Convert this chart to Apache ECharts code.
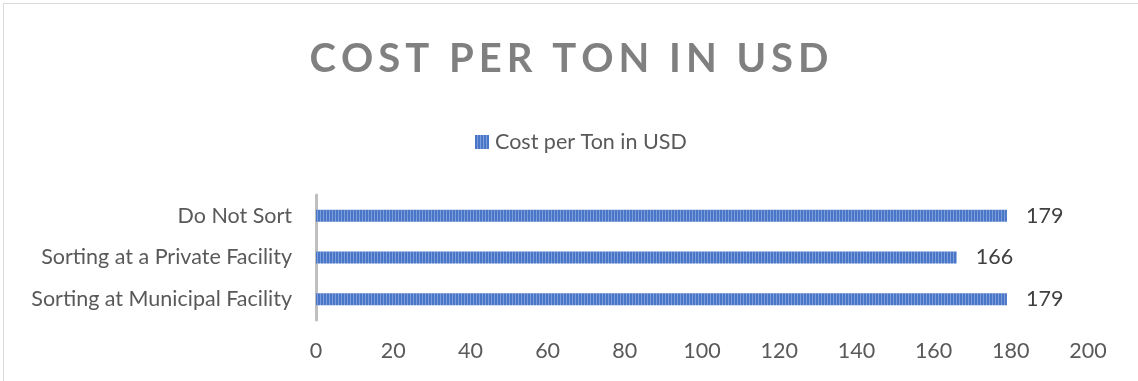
<!DOCTYPE html>
<html>
<head>
<meta charset="utf-8">
<script src="https://cdn.jsdelivr.net/npm/echarts@6/dist/echarts.min.js"></script>
<style>
html,body{margin:0;padding:0;background:#fff;}
#frame{position:absolute;left:3px;top:3px;width:1140px;height:385px;border-left:1px solid #d9d9d9;border-top:1px solid #d9d9d9;}
#chart{position:absolute;left:0;top:0;width:1138px;height:381px;}
</style>
</head>
<body>
<div id="frame"></div>
<div id="chart"></div>
<script>
const categories = ['Sorting at Municipal Facility', 'Sorting at a Private Facility', 'Do Not Sort'];
const costPerTon = [179, 166, 179];
const seriesName = 'Cost per Ton in USD';
const titleText = 'COST PER TON IN USD';
const xTicks = {min: 0, max: 200, interval: 20};

function stripes() {
  const c = document.createElement('canvas');
  c.width = 3; c.height = 4;
  const g = c.getContext('2d');
  g.fillStyle = '#4a76c7'; g.fillRect(0, 0, 3, 4);
  g.fillStyle = '#7d9edb'; g.fillRect(2, 0, 1, 4);
  return c;
}
const pat = {image: stripes(), repeat: 'repeat'};

const chart = echarts.init(document.getElementById('chart'), null, {renderer: 'canvas'});
const FONT = 'Lato';
const FS = 21.5;
chart.setOption({
  animation: false,
  title: {
    text: titleText.split('').join('\u200A\u200A'),
    left: 'center', top: 34,
    textStyle: {fontFamily: FONT, fontSize: 40, fontWeight: 'bold', color: '#808080'}
  },
  legend: {
    top: 126, left: 470,
    itemWidth: 14, itemHeight: 14, itemGap: 6,
    icon: 'rect',
    textStyle: {fontFamily: FONT, fontSize: FS, color: '#595959', padding: [0, 0, 0, 1]},
    data: [{name: seriesName, itemStyle: {color: pat}}]
  },
  grid: {left: 316, right: 50, top: 195, bottom: 61, containLabel: false},
  xAxis: {
    type: 'value', min: xTicks.min, max: xTicks.max, interval: xTicks.interval,
    axisLine: {show: false}, axisTick: {show: false}, splitLine: {show: false},
    axisLabel: {fontFamily: FONT, fontSize: FS, color: '#595959', margin: 20}
  },
  yAxis: {
    type: 'category', data: categories,
    axisLine: {show: true, lineStyle: {color: '#bfbfbf', width: 3}},
    axisTick: {show: false},
    axisLabel: {fontFamily: FONT, fontSize: FS, color: '#595959', margin: 24}
  },
  series: [{
    name: seriesName, type: 'bar', data: costPerTon,
    barWidth: 12,
    itemStyle: {color: pat},
    label: {show: true, position: 'right', distance: 19, fontFamily: FONT, fontSize: FS, color: '#404040'}
  }]
});
</script>
</body>
</html>
